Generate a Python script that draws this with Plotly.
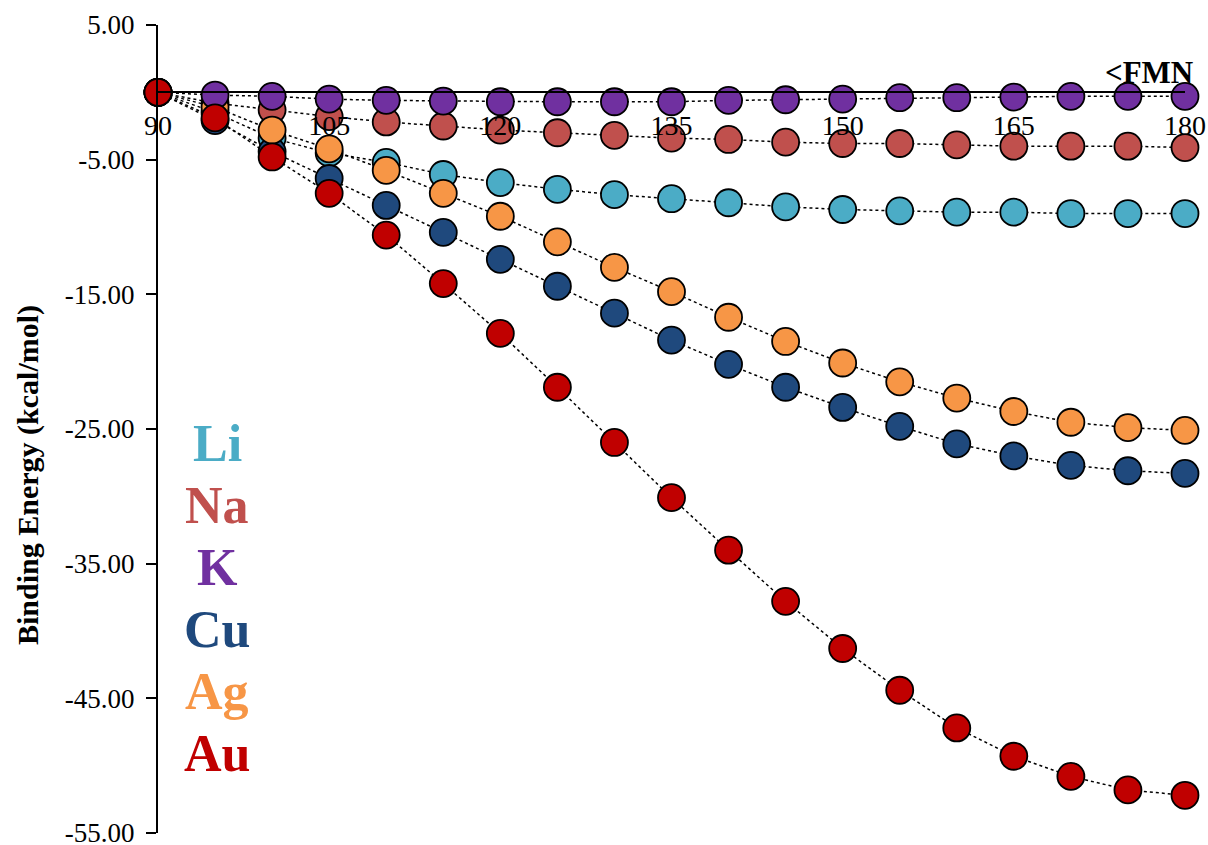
import plotly.graph_objects as go

angles = [90, 95, 100, 105, 110, 115, 120, 125, 130, 135, 140, 145, 150, 155, 160, 165, 170, 175, 180]

li = [0, -1.5, -3.4, -4.5, -5.2, -6.1, -6.7, -7.2, -7.6, -7.9, -8.2, -8.5, -8.7, -8.8, -8.9, -8.9, -9.0, -9.0, -9.0]
na = [0, -0.8, -1.3, -1.8, -2.2, -2.5, -2.8, -3.0, -3.2, -3.4, -3.5, -3.7, -3.8, -3.8, -3.9, -4.0, -4.0, -4.0, -4.1]
k = [0, -0.2, -0.3, -0.5, -0.6, -0.65, -0.7, -0.7, -0.7, -0.7, -0.6, -0.55, -0.5, -0.4, -0.4, -0.35, -0.3, -0.3, -0.3]
cu = [0, -2.1, -4.4, -6.4, -8.4, -10.4, -12.4, -14.4, -16.4, -18.4, -20.2, -21.9, -23.4, -24.8, -26.1, -27.0, -27.7, -28.1, -28.3]
ag = [0, -1.1, -2.8, -4.2, -5.8, -7.5, -9.2, -11.1, -13.0, -14.8, -16.7, -18.5, -20.1, -21.5, -22.7, -23.7, -24.5, -24.9, -25.1]
au = [0, -1.9, -4.8, -7.5, -10.6, -14.2, -17.9, -21.9, -26.0, -30.1, -34.0, -37.8, -41.3, -44.4, -47.2, -49.3, -50.8, -51.8, -52.2]

series_names = ["Li", "Na", "Cu", "Ag", "K", "Au"]
series_data = [li, na, cu, ag, k, au]
series_colors = ["#4BACC6", "#C0504D", "#1F497D", "#F79646", "#7030A0", "#C00000"]

legend_order = ["Li", "Na", "K", "Cu", "Ag", "Au"]

y_ticks = [5, -5, -15, -25, -35, -45, -55]
x_ticks = [90, 105, 120, 135, 150, 165, 180]

# the page margin is removed in post_script, so the figure fills the window exactly
W, H = 1208, 845
L, R, T, B = 158, 23, 25, 12
pw, ph = W - L - R, H - T - B


def px_x(p):
    return (p - L) / pw


def px_y(p):
    return 1 - (p - T) / ph


fig = go.Figure()
for name, data, color in zip(series_names, series_data, series_colors):
    fig.add_trace(go.Scatter(
        x=angles, y=data, name=name, mode="lines+markers",
        line=dict(color="black", width=1.5, dash="dot"),
        marker=dict(size=27, color=color, line=dict(color="black", width=1.8)),
        cliponaxis=False, showlegend=False,
    ))

color_map = dict(zip(series_names, series_colors))
for i, name in enumerate(legend_order):
    fig.add_annotation(
        x=px_x(217), y=px_y(443 + i * 62), xref="paper", yref="paper",
        text="<b>%s</b>" % name, showarrow=False,
        font=dict(family="Liberation Serif", size=52, color=color_map[name]),
        xanchor="center", yanchor="middle",
    )

fig.add_annotation(
    x=1.0, y=1.5, xref="paper", yref="y", text="<b>&lt;FMN</b>", showarrow=False,
    font=dict(family="Liberation Serif", size=31, color="black"),
    xanchor="right", yanchor="middle", xshift=10,
)

fig.add_annotation(
    x=px_x(28), y=px_y(475), xref="paper", yref="paper", text="<b>Binding Energy (kcal/mol)</b>",
    showarrow=False, textangle=-90,
    font=dict(family="Liberation Serif", size=30, color="black"),
    xanchor="center", yanchor="middle",
)

fig.update_layout(
    width=W, height=H,
    margin=dict(l=L, r=R, t=T, b=B),
    plot_bgcolor="white", paper_bgcolor="white",
    font=dict(family="Liberation Serif", color="black"),
    xaxis=dict(
        range=[90, 180], tickvals=x_ticks, ticktext=[str(v) for v in x_ticks],
        showgrid=False, zeroline=False, showline=True, linecolor="black", linewidth=2,
        anchor="free", position=1 - 5 / 60, automargin=False, ticklabeloverflow="allow",
        ticks="outside", ticklen=8, tickcolor="rgba(0,0,0,0)",
        tickfont=dict(family="Liberation Serif", size=28, color="black"),
    ),
    yaxis=dict(
        range=[-55, 5], tickvals=y_ticks, ticktext=["%.2f" % v for v in y_ticks],
        showgrid=False, zeroline=False, showline=True, linecolor="black", linewidth=2,
        automargin=False, ticklabeloverflow="allow", ticklabelstandoff=6,
        ticks="outside", ticklen=10, tickwidth=1.5, tickcolor="black",
        tickfont=dict(family="Liberation Serif", size=27, color="black"),
    ),
)

fig.write_html(
    "out.html",
    config={"displayModeBar": False},
    post_script=(
        "document.body.style.margin='0';"
        "document.body.style.overflow='hidden';"
        "document.documentElement.style.overflow='hidden';"
    ),
)
